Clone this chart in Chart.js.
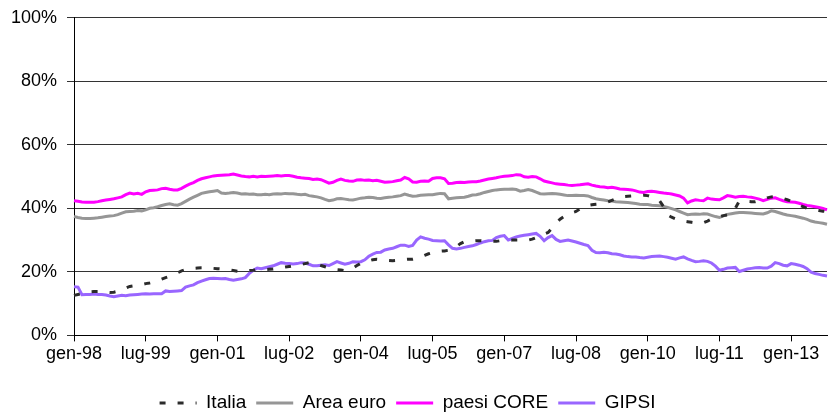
<!DOCTYPE html>
<html>
<head>
<meta charset="utf-8">
<script src="https://cdn.jsdelivr.net/npm/chart.js@4/dist/chart.umd.min.js"></script>
<style>
  body { margin: 0; background: #fff; }
  canvas { display: block; }
</style>
</head>
<body>
<canvas id="myChart" width="829" height="412"></canvas>
<script>
// monthly series, gen-98 .. ott-13
var mesi = ['gen', 'feb', 'mar', 'apr', 'mag', 'giu', 'lug', 'ago', 'set', 'ott', 'nov', 'dic'];
var labels = [];
for (var i = 0; i < 190; i++) {
  var anno = 1998 + Math.floor(i / 12);
  labels.push(mesi[i % 12] + '-' + String(anno).slice(2));
}

var italia = [
  12.6, 12.9, 13.2, 13.5, 13.7, 13.8, 13.8, 13.7, 13.6, 13.5, 13.6, 13.9,
  14.4, 14.9, 15.4, 15.6, 15.8, 16.0, 16.3, 16.5, 16.8, 17.2, 17.7, 18.2,
  18.6, 19.1, 19.7, 20.3, 20.7, 20.9, 21.1, 21.2, 21.3, 21.3, 21.2, 21.1,
  21.0, 20.9, 20.8, 20.6, 20.4, 20.2, 20.1, 20.2, 20.4, 20.5, 20.7, 20.7,
  20.7, 20.8, 20.9, 21.1, 21.3, 21.5, 21.7, 21.9, 22.1, 22.3, 22.6, 22.9,
  22.9, 22.5, 22.0, 21.6, 21.2, 20.9, 20.7, 20.6, 20.4, 20.6, 21.2, 22.0,
  22.7, 23.1, 23.5, 23.8, 24.0, 23.9, 23.7, 23.6, 23.5, 23.6, 23.8, 23.9,
  24.0, 24.0, 24.3, 24.7, 25.2, 25.7, 26.1, 26.3, 26.5, 26.6, 26.8, 27.2,
  28.0, 28.9, 29.5, 29.6, 29.7, 29.8, 29.8, 29.7, 29.6, 29.6, 29.6, 29.8,
  29.9, 29.9, 30.0, 30.0, 30.0, 30.0, 30.0, 30.3, 30.8, 31.4, 31.9, 32.4,
  33.8, 35.2, 36.6, 37.4, 38.1, 38.6, 39.0, 39.8, 40.5, 40.9, 41.1, 41.3,
  41.4, 41.6, 42.0, 42.5, 43.0, 43.5, 43.7, 43.8, 43.9, 44.0, 44.0, 44.1,
  44.0, 43.6, 43.0, 42.3, 40.5, 37.9, 37.2, 36.7, 36.3, 36.0, 35.8, 35.6,
  35.4, 35.3, 35.5, 36.0, 36.6, 37.1, 37.4, 37.7, 37.9, 38.2, 40.0, 42.3,
  42.3, 42.2, 42.1, 42.1, 42.4, 42.9, 43.3, 43.6, 43.7, 43.5, 43.1, 42.7,
  42.2, 41.6, 41.0, 40.5, 40.0, 39.8, 39.5, 39.3, 39.1, 38.9
];

var areaEuro = [
  37.4, 37.1, 36.9, 36.8, 36.8, 36.9, 37.0, 37.2, 37.4, 37.6, 37.7, 38.0,
  38.5, 38.9, 39.0, 39.1, 39.3, 39.2, 39.5, 40.0, 40.2, 40.5, 40.9, 41.2,
  41.4, 41.1, 41.0, 41.5, 42.2, 42.9, 43.5, 44.1, 44.7, 45.0, 45.2, 45.4,
  45.6, 44.8, 44.7, 44.8, 45.0, 44.8, 44.5, 44.6, 44.4, 44.5, 44.3, 44.3,
  44.4, 44.3, 44.5, 44.6, 44.5, 44.7, 44.6, 44.6, 44.4, 44.3, 44.4, 44.0,
  43.8, 43.6, 43.3, 42.8, 42.4, 42.6, 43.0, 43.1, 42.9, 42.7, 42.6, 42.9,
  43.2, 43.3, 43.5, 43.4, 43.2, 43.1, 43.3, 43.5, 43.6, 43.8, 44.0, 44.5,
  44.1, 43.8, 43.9, 44.1, 44.2, 44.3, 44.3, 44.5, 44.7, 44.6, 43.0, 43.2,
  43.3, 43.4, 43.5, 43.8, 44.2, 44.3, 44.6, 45.0, 45.3, 45.6, 45.8, 45.9,
  46.0, 46.0, 46.1, 45.9, 45.4, 45.6, 45.9, 45.6, 45.1, 44.6, 44.5, 44.6,
  44.7, 44.6, 44.4, 44.2, 44.0, 44.0, 44.1, 44.0, 44.0, 43.9, 43.4, 43.0,
  42.8, 42.6, 42.4, 42.3, 42.1, 42.0, 41.9, 41.8, 41.7, 41.5, 41.3, 41.2,
  41.2, 41.0, 40.9, 40.8, 40.6, 40.3, 39.9, 39.5, 39.0, 38.5, 38.0, 38.1,
  38.2, 38.1, 38.3, 38.2, 37.8, 37.4, 37.1, 37.6, 38.1, 38.3, 38.5, 38.7,
  38.7, 38.6, 38.5, 38.4, 38.3, 38.2, 38.6, 39.2, 39.0, 38.6, 38.2, 37.9,
  37.7, 37.5, 37.2, 36.9, 36.5, 36.0, 35.7, 35.5, 35.3, 35.0
];

var paesiCore = [
  42.4, 42.2, 42.0, 41.9, 41.9, 41.9, 42.1, 42.4, 42.6, 42.8, 43.0, 43.3,
  43.6, 44.3, 44.8, 44.5, 44.7, 44.4, 45.2, 45.6, 45.7, 45.8, 46.2, 46.3,
  46.0, 45.8, 45.8, 46.3, 47.0, 47.6, 48.1, 48.8, 49.3, 49.6, 49.9, 50.2,
  50.3, 50.4, 50.5, 50.6, 50.8, 50.5, 50.2, 50.0, 49.9, 50.1, 49.9, 50.1,
  50.0, 50.1, 50.2, 50.3, 50.2, 50.3, 50.3, 50.1, 49.8, 49.6, 49.5, 49.4,
  49.1, 49.2, 49.0, 48.5, 47.9, 48.2, 48.8, 49.2, 48.8, 48.6, 48.5, 48.9,
  49.0, 48.8, 48.9, 48.7, 48.8, 48.5, 48.2, 48.3, 48.4, 48.7, 48.9, 49.7,
  49.3, 48.3, 48.2, 48.5, 48.6, 48.5, 49.4, 49.6, 49.6, 49.3, 47.8, 47.9,
  48.1, 48.2, 48.1, 48.3, 48.4, 48.4, 48.6, 48.9, 49.2, 49.4, 49.6, 49.9,
  50.1, 50.2, 50.3, 50.6, 50.5, 49.9, 49.8, 50.0, 49.9, 49.3, 48.6, 48.3,
  48.0, 47.7, 47.6, 47.5, 47.3, 47.2, 47.3, 47.4, 47.6, 47.7, 47.3, 47.0,
  46.8, 46.7, 46.5, 46.6, 46.4, 46.1, 46.0, 45.9, 45.8, 45.5, 45.1, 45.0,
  45.3, 45.4, 45.2, 45.0, 44.8, 44.7, 44.5, 44.2, 43.9, 43.2, 41.7, 42.3,
  42.7, 42.5, 42.4, 43.2, 42.9, 42.8, 42.7, 43.3, 44.0, 43.8, 43.5, 43.7,
  43.8, 43.6, 43.5, 43.2, 42.9, 42.4, 42.8, 43.2, 43.3, 42.8, 42.4, 42.1,
  42.0, 41.9, 41.6, 41.2, 40.9, 40.7, 40.5, 40.3, 40.0, 39.5
];

var gipsi = [
  15.3, 15.2, 12.8, 12.9, 12.9, 13.0, 12.9, 12.9, 12.7, 12.4, 12.2, 12.4,
  12.6, 12.5, 12.7, 12.8, 12.9, 13.0, 13.1, 13.0, 13.1, 13.1, 13.1, 14.0,
  13.8, 13.9, 14.0, 14.1, 15.2, 15.6, 15.9, 16.6, 17.1, 17.5, 17.9, 18.0,
  17.9, 17.8, 17.9, 17.6, 17.4, 17.6, 17.8, 18.2, 19.5, 20.5, 21.2, 21.0,
  21.3, 21.6, 21.9, 22.4, 22.9, 22.7, 22.6, 22.5, 22.6, 22.9, 22.8, 22.4,
  21.9, 21.9, 22.1, 22.2, 22.0, 22.6, 23.2, 22.8, 22.4, 22.7, 23.2, 23.1,
  23.2, 23.8, 24.9, 25.6, 26.1, 26.2, 26.9, 27.2, 27.4, 27.9, 28.4, 28.4,
  28.0, 28.3, 30.0, 31.0, 30.6, 30.3, 29.9, 29.8, 29.7, 29.8, 28.5, 27.4,
  27.2, 27.4, 27.7, 28.0, 28.2, 28.6, 29.1, 29.5, 29.8, 29.9, 30.8, 31.2,
  31.4, 30.0, 30.5, 31.0, 31.3, 31.5, 31.7, 31.9, 32.1, 31.2, 29.8, 30.8,
  31.4, 30.2, 29.6, 29.8, 30.0, 29.7, 29.4, 29.0, 28.6, 28.3, 26.8, 26.1,
  26.0, 26.2, 26.0, 25.7, 25.6, 25.4, 25.0, 24.8, 24.7, 24.7, 24.5, 24.4,
  24.6, 24.8, 24.9, 25.0, 24.8, 24.6, 24.3, 24.0, 24.4, 24.7, 24.1, 23.6,
  23.2, 23.3, 23.5, 23.3, 22.8, 21.8, 20.5, 20.8, 21.2, 21.3, 21.4, 20.1,
  20.5, 20.9, 21.1, 21.3, 21.4, 21.2, 21.2, 21.8, 22.9, 22.6, 22.1, 21.9,
  22.6, 22.4, 22.1, 21.7, 21.0, 19.9, 19.5, 19.2, 18.9, 18.7
];

var yTicks = [0, 20, 40, 60, 80, 100];
var labelStep = 18;

var tickFont = { family: 'Liberation Sans, Arial, sans-serif', size: 18 };
var legendFont = { family: 'Liberation Sans, Arial, sans-serif', size: 19 };

var ctx = document.getElementById('myChart').getContext('2d');

var chart = new Chart(ctx, {
  type: 'line',
  data: {
    labels: labels,
    datasets: [
      { label: 'Italia', data: italia, borderColor: '#2b2b2b', borderWidth: 3, borderDash: [6, 12] },
      { label: 'Area euro', data: areaEuro, borderColor: '#969696', borderWidth: 3 },
      { label: 'paesi CORE', data: paesiCore, borderColor: '#ff00ff', borderWidth: 3 },
      { label: 'GIPSI', data: gipsi, borderColor: '#9966ff', borderWidth: 3 }
    ]
  },
  options: {
    responsive: false,
    animation: false,
    devicePixelRatio: 1,
    elements: { point: { radius: 0 }, line: { tension: 0, fill: false } },
    layout: { padding: { top: 17.7, right: 2, bottom: -10.4, left: 0 } },
    scales: {
      x: {
        offset: false,
        afterBuildTicks: function(scale) {
          scale.ticks = scale.ticks.filter(function(t) { return t.value % labelStep === 0; });
        },
        afterFit: function(scale) { scale.height = 48; },
        grid: { drawOnChartArea: false, drawTicks: true, tickLength: 6, color: '#000' },
        border: { color: '#000', width: 1 },
        ticks: { autoSkip: false, maxRotation: 0, color: '#000', font: tickFont, padding: 2 }
      },
      y: {
        min: 0,
        max: 100,
        afterBuildTicks: function(scale) {
          scale.ticks = yTicks.map(function(v) { return { value: v }; });
        },
        afterFit: function(scale) {
          scale.width = 74;
          scale.paddingTop = 0;
          scale.paddingBottom = 0;
        },
        grid: { color: '#333', lineWidth: 1, tickLength: 7 },
        border: { color: '#000', width: 1 },
        ticks: {
          color: '#000', font: tickFont, padding: 10,
          callback: function(v) { return v + '%'; }
        }
      }
    },
    plugins: {
      legend: {
        position: 'bottom',
        labels: {
          usePointStyle: true,
          pointStyle: 'line',
          pointStyleWidth: 37,
          color: '#000',
          font: legendFont,
          padding: 10,
          generateLabels: function(chart) {
            var items = Chart.defaults.plugins.legend.labels.generateLabels(chart);
            items.forEach(function(item) {
              var ds = chart.data.datasets[item.datasetIndex];
              item.lineDash = ds.borderDash || [];
              item.lineWidth = ds.borderWidth;
            });
            return items;
          }
        }
      },
      tooltip: { enabled: false }
    }
  },
  plugins: [{
    id: 'legendShift',
    afterLayout: function(chart) {
      chart.legend.left -= 6;
      chart.legend.right -= 6;
    }
  }]
});
</script>
</body>
</html>
